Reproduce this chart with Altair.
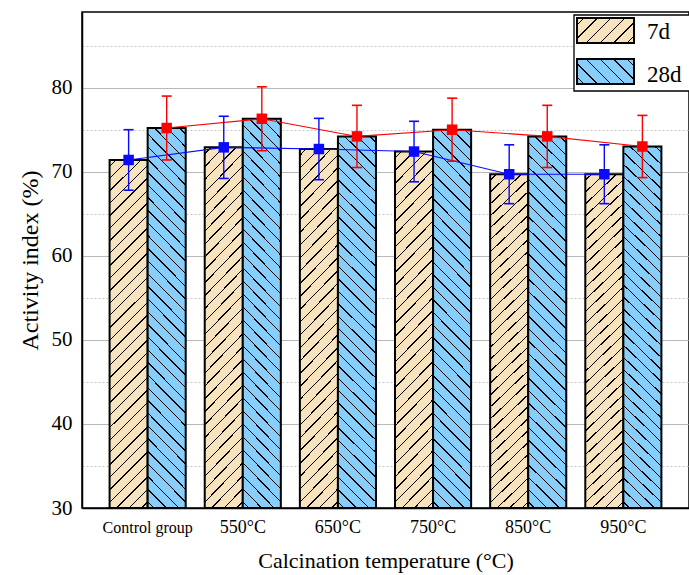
import altair as alt
import pandas as pd

categories = ["Control group", "550°C", "650°C", "750°C", "850°C", "950°C"]
series = ["7d", "28d"]
values_7d = [71.4, 72.9, 72.7, 72.4, 69.7, 69.7]
err_7d = [3.6, 3.7, 3.65, 3.6, 3.5, 3.5]
values_28d = [75.2, 76.3, 74.2, 75.0, 74.2, 73.0]
err_28d = [3.8, 3.8, 3.7, 3.75, 3.7, 3.7]
y_grid = [30, 35, 40, 45, 50, 55, 60, 65, 70, 75, 80, 85]

rows = []
for c, v, e in zip(categories, values_7d, err_7d):
    rows.append({"cat": c, "series": series[0], "value": v, "err": e})
for c, v, e in zip(categories, values_28d, err_28d):
    rows.append({"cat": c, "series": series[1], "value": v, "err": e})
df = pd.DataFrame(rows)

FONT = "Liberation Serif"
W, H = 607, 496
Y0, Y1 = 30, 89
P_IN, P_OUT = 0.2, 0.29
FILL7, FILL28 = "#F7E3BD", "#87CEFA"
BLUE, RED = "#0A0AFF", "#FF0000"

step = W / (len(categories) - P_IN + 2 * P_OUT)
bar_w = step * (1 - P_IN) / 2
ppu = H / (Y1 - Y0)


def hatch(bg, w, h, spacing, forward, lw=1.0):
    r = h / w
    s = (1 + r) / (1 + r * r)
    if forward:  # "/" lines
        x1, y1, x2, y2 = 0.0, 0.0, s, s * r
    else:  # "\" lines
        x1, y1, x2, y2 = 1.0, 0.0, 1 - s, s * r
    d = (w + h) / 2 ** 0.5
    n = max(1, round(d / spacing))
    f = lw / d
    stops = []
    for k in range(n):
        c = (k + 0.5) / n
        a, b = round(c - f / 2, 5), round(c + f / 2, 5)
        stops += [
            {"offset": round(k / n, 5), "color": bg},
            {"offset": a, "color": bg},
            {"offset": a, "color": "#000000"},
            {"offset": b, "color": "#000000"},
            {"offset": b, "color": bg},
        ]
    stops.append({"offset": 1, "color": bg})
    return {"gradient": "linear", "x1": round(x1, 5), "y1": round(y1, 5),
            "x2": round(x2, 5), "y2": round(y2, 5), "stops": stops}


h7 = (sum(values_7d) / len(values_7d) - Y0) * ppu
h28 = (sum(values_28d) / len(values_28d) - Y0) * ppu
fill7 = hatch(FILL7, bar_w, h7, 8.8, True)
fill28 = hatch(FILL28, bar_w, h28, 8.8, False)

x_enc = alt.X(
    "cat:N", sort=categories,
    scale=alt.Scale(paddingInner=P_IN, paddingOuter=P_OUT),
    axis=alt.Axis(
        title="Calcination temperature (°C)", titleFontSize=22, titleFont=FONT,
        titleFontWeight="normal", titleColor="black", titlePadding=14,
        labelFont=FONT, labelColor="black", labelAngle=0,
        labelFontSize={"condition": {"test": "datum.value == 'Control group'", "value": 16}, "value": 18},
        labelBaseline="alphabetic", labelPadding=24,
        ticks=False, domainColor="black", domainWidth=1.5, grid=False,
    ),
)
xo_enc = alt.XOffset("series:N", sort=series,
                     scale=alt.Scale(domain=series, paddingInner=0, paddingOuter=0))
y_scale = alt.Scale(domain=[Y0, Y1], nice=False, zero=False)
y_axis = alt.Axis(
    title="Activity index (%)", titleFontSize=24, titleFont=FONT, titleFontWeight="normal",
    titleColor="black", titlePadding=9,
    values=y_grid, labelExpr="datum.value % 10 == 0 ? datum.label : ''",
    labelFont=FONT, labelFontSize=21, labelColor="black", labelPadding=10,
    ticks=False, domainColor="black", domainWidth=1.5,
    grid=True,
    gridDash={"condition": {"test": "datum.value % 10 != 0", "value": [2, 2]}, "value": [1, 0]},
    gridColor={"condition": {"test": "datum.value % 10 != 0", "value": "#c8c8c8"}, "value": "#a0a0a0"},
    gridWidth=1,
)
color_enc = alt.Color("series:N", scale=alt.Scale(domain=series, range=[BLUE, RED]), legend=None)

base = alt.Chart(df)

bars7 = base.transform_filter(alt.datum.series == series[0]).mark_bar(
    fill=fill7, stroke="black", strokeWidth=2
).encode(x=x_enc, xOffset=xo_enc, y=alt.Y("value:Q", scale=y_scale, axis=y_axis), y2=alt.datum(Y0))

bars28 = base.transform_filter(alt.datum.series == series[1]).mark_bar(
    fill=fill28, stroke="black", strokeWidth=2
).encode(x=x_enc, xOffset=xo_enc, y=alt.Y("value:Q", scale=y_scale, axis=y_axis), y2=alt.datum(Y0))

lines = base.mark_line(strokeWidth=1.1).encode(
    x=x_enc, xOffset=xo_enc, y=alt.Y("value:Q", scale=y_scale), color=color_enc
)

err_base = base.transform_calculate(
    lo="datum.value - datum.err", hi="datum.value + datum.err"
)
rules = err_base.mark_rule(strokeWidth=1.4).encode(
    x=x_enc, xOffset=xo_enc, y=alt.Y("lo:Q", scale=y_scale), y2="hi:Q", color=color_enc
)
cap_hi = err_base.mark_tick(thickness=1.6, size=10, opacity=1).encode(
    x=x_enc, xOffset=xo_enc, y=alt.Y("hi:Q", scale=y_scale), color=color_enc
)
cap_lo = err_base.mark_tick(thickness=1.6, size=10, opacity=1).encode(
    x=x_enc, xOffset=xo_enc, y=alt.Y("lo:Q", scale=y_scale), color=color_enc
)
points = base.mark_square(size=110, opacity=1, filled=True).encode(
    x=x_enc, xOffset=xo_enc, y=alt.Y("value:Q", scale=y_scale), color=color_enc
)

# legend (drawn by hand to show hatched swatches)
leg_df = pd.DataFrame({"series": series})
SW_W, SW_H = 57, 25
lfill7 = hatch(FILL7, SW_W, SW_H, 9.5, True)
lfill28 = hatch(FILL28, SW_W, SW_H, 9.5, False)

leg_box = alt.Chart(leg_df).transform_filter(alt.datum.series == series[0]).mark_rect(
    fill="white", stroke="black", strokeWidth=1.3
).encode(x=alt.value(492), x2=alt.value(625), y=alt.value(3), y2=alt.value(79))
leg_sw7 = alt.Chart(leg_df).transform_filter(alt.datum.series == series[0]).mark_rect(
    fill=lfill7, stroke="black", strokeWidth=2
).encode(x=alt.value(495), x2=alt.value(495 + SW_W), y=alt.value(6), y2=alt.value(6 + SW_H))
leg_sw28 = alt.Chart(leg_df).transform_filter(alt.datum.series == series[1]).mark_rect(
    fill=lfill28, stroke="black", strokeWidth=2
).encode(x=alt.value(495), x2=alt.value(495 + SW_W), y=alt.value(47), y2=alt.value(47 + SW_H))
leg_t7 = alt.Chart(leg_df).transform_filter(alt.datum.series == series[0]).mark_text(
    font=FONT, fontSize=23, align="left", baseline="alphabetic", color="black"
).encode(x=alt.value(565), y=alt.value(27), text="series:N")
leg_t28 = alt.Chart(leg_df).transform_filter(alt.datum.series == series[1]).mark_text(
    font=FONT, fontSize=23, align="left", baseline="alphabetic", color="black"
).encode(x=alt.value(565), y=alt.value(70), text="series:N")

chart = alt.layer(
    bars7, bars28, lines, rules, cap_hi, cap_lo, points,
    leg_box, leg_sw7, leg_sw28, leg_t7, leg_t28,
).properties(
    width=W, height=H,
    autosize=alt.AutoSizeParams(type="none"),
    padding={"left": 82, "top": 12, "right": 0, "bottom": 67},
    background="white",
).configure_view(stroke="black", strokeWidth=1.5)

chart.save("out.html", embed_options={"renderer": "svg", "actions": False})
